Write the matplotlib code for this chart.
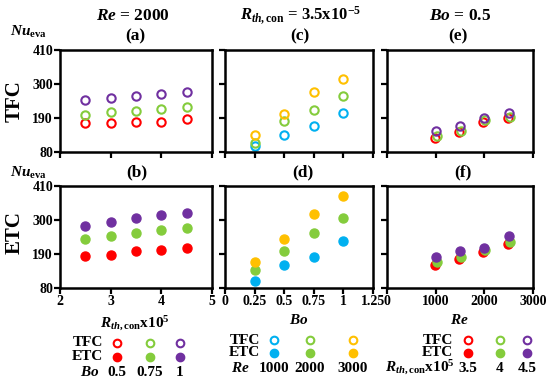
import matplotlib
matplotlib.use('Agg')
import matplotlib.pyplot as plt

plt.rcParams['font.family'] = 'Liberation Serif'
plt.rcParams['font.weight'] = 'bold'
plt.rcParams['mathtext.fontset'] = 'custom'
plt.rcParams['mathtext.rm'] = 'Liberation Serif:bold'
plt.rcParams['mathtext.it'] = 'Liberation Serif:bold:italic'
plt.rcParams['mathtext.bf'] = 'Liberation Serif:bold'

# column 1: Re = 2000, x = Rth,con x 1e5, series = Bo
rth = [2.5, 3, 3.5, 4, 4.5]
a_bo05 = [175, 175, 178, 178, 186]
a_bo075 = [200, 210, 213, 218, 225]
a_bo1 = [248, 254, 260, 267, 273]
b_bo05 = [185, 188, 199, 202, 210]
b_bo075 = [240, 249, 258, 268, 273]
b_bo1 = [282, 294, 305, 316, 323]

# column 2: Rth,con = 3.5e-5, x = Bo, series = Re
bo = [0.25, 0.5, 0.75, 1]
c_re1000 = [99, 135, 164, 205]
c_re2000 = [110, 181, 217, 262]
c_re3000 = [135, 202, 275, 317]
d_re1000 = [103, 154, 180, 231]
d_re2000 = [139, 200, 257, 305]
d_re3000 = [163, 240, 320, 378]

# column 3: Bo = 0.5, x = Re, series = Rth,con x 1e5
re_35 = [980, 1470, 1980, 2480]
re_4 = [1030, 1520, 2020, 2520]
re_45 = [1000, 1490, 2000, 2500]
e_r35 = [126, 144, 176, 189]
e_r4 = [132, 148, 184, 194]
e_r45 = [149, 164, 189, 207]
f_r35 = [154, 173, 197, 221]
f_r4 = [163, 181, 204, 230]
f_r45 = [179, 200, 211, 247]

red = '#ff0000'
green = '#84cc3c'
purple = '#7030a0'
blue = '#00b0f0'
yellow = '#ffc000'

W, H = 550, 386
fig = plt.figure(figsize=(5.5, 3.86), dpi=100)


def box(l, t, r, b):
    return [l / W, 1 - b / H, (r - l) / W, (b - t) / H]


cols = [(60, 212), (225, 373), (387, 533)]
rows = [(50, 152), (186, 288)]
axes = {}
for j, (l, r) in enumerate(cols):
    for i, (t, b) in enumerate(rows):
        ax = fig.add_axes(box(l, t, r, b))
        ax.set_ylim(80, 410)
        ax.set_yticks([80, 190, 300, 410])
        for s in ax.spines.values():
            s.set_linewidth(1.8)
        ax.tick_params(direction='out', length=4, width=1.6, labelsize=10, pad=1)
        if j > 0:
            ax.set_yticklabels([])
        if i == 0:
            ax.set_xticklabels([])
        axes[(i, j)] = ax


def dots(ax, x, y, c, filled):
    if filled:
        ax.plot(x, y, 'o', ms=6.5, color=c, mec=c, ls='none')
    else:
        ax.plot(x, y, 'o', ms=6, mfc='none', mec=c, mew=1.5, ls='none')


for (i, filled), ys in zip([(0, False), (1, True)],
                           [(a_bo05, a_bo075, a_bo1), (b_bo05, b_bo075, b_bo1)]):
    ax = axes[(i, 0)]
    for y, c in zip(ys, [red, green, purple]):
        dots(ax, rth, y, c, filled)
    ax.set_xlim(2, 5)
    ax.set_xticks([2, 3, 4, 5])

for (i, filled), ys in zip([(0, False), (1, True)],
                           [(c_re1000, c_re2000, c_re3000), (d_re1000, d_re2000, d_re3000)]):
    ax = axes[(i, 1)]
    for y, c in zip(ys, [blue, green, yellow]):
        dots(ax, bo, y, c, filled)
    ax.set_xlim(0, 1.25)
    ax.set_xticks([0, 0.25, 0.5, 0.75, 1, 1.25])
    if i == 1:
        ax.set_xticklabels(['0', '0.25', '0.5', '0.75', '1', '1.25'])

for (i, filled), ys in zip([(0, False), (1, True)],
                           [(e_r35, e_r4, e_r45), (f_r35, f_r4, f_r45)]):
    ax = axes[(i, 2)]
    for x, y, c in zip([re_35, re_4, re_45], ys, [red, green, purple]):
        dots(ax, x, y, c, filled)
    ax.set_xlim(0, 3000)
    ax.set_xticks([0, 1000, 2000, 3000])

# overlay for texts and legend keys, in pixel units
ov = fig.add_axes([0, 0, 1, 1])
ov.set_xlim(0, W)
ov.set_ylim(H, 0)
ov.axis('off')

kw = dict(ha='center', va='center', fontweight='bold')
ov.text(133, 16, r'$Re$ = 2000', fontsize=12.5, **kw)
ov.text(301, 15, r'$R_{th\mathrm{,con}}$ = 3.5x10$^{-5}$', fontsize=12, **kw)
ov.text(460, 16, r'$Bo$ = 0.5', fontsize=12.5, **kw)
for x, y, s in [(135, 36, '(a)'), (300, 36, '(c)'), (458, 36, '(e)'),
                (137, 172, '(b)'), (303, 172, '(d)'), (463, 172, '(f)')]:
    ov.text(x, y, s, fontsize=12.5, **kw)

ov.text(28, 32, r'$Nu_{\mathrm{eva}}$', fontsize=11, **kw)
ov.text(28, 173, r'$Nu_{\mathrm{eva}}$', fontsize=11, **kw)
ov.text(15, 101, 'TFC', fontsize=15, rotation=90, **kw)
ov.text(15, 233, 'ETC', fontsize=15, rotation=90, **kw)

ov.text(135, 324, r'$R_{th\mathrm{,con}}$x10$^5$', fontsize=11, **kw)
ov.text(299, 320, r'$Bo$', fontsize=11, **kw)
ov.text(459, 320, r'$Re$', fontsize=11, **kw)

# legend tables
legends = [
    dict(lx=103, ty=(343, 357, 372), keys=(117, 150, 180), cs=(red, green, purple),
         name=r'$Bo$', nx=90, labels=('0.5', '0.75', '1')),
    dict(lx=260, ty=(340, 353, 368), keys=(274, 310, 353), cs=(blue, green, yellow),
         name=r'$Re$', nx=240, labels=('1000', '2000', '3000')),
    dict(lx=453, ty=(340, 353, 368), keys=(468, 500, 527), cs=(red, green, purple),
         name=r'$R_{th\mathrm{,con}}$x10$^5$', nx=420, labels=('3.5', '4', '4.5')),
]
for lg in legends:
    ov.text(lg['lx'], lg['ty'][0], 'TFC', fontsize=11, ha='right', va='center')
    ov.text(lg['lx'], lg['ty'][1], 'ETC', fontsize=11, ha='right', va='center')
    ov.text(lg['nx'], lg['ty'][2], lg['name'], fontsize=11, ha='center', va='center')
    for kx, c, lab in zip(lg['keys'], lg['cs'], lg['labels']):
        ov.plot([kx], [lg['ty'][0]], 'o', ms=5.5, mfc='none', mec=c, mew=1.5)
        ov.plot([kx], [lg['ty'][1]], 'o', ms=6, color=c)
        ov.text(kx, lg['ty'][2], lab, fontsize=11, ha='center', va='center')

fig.savefig('out.png', dpi=100)
